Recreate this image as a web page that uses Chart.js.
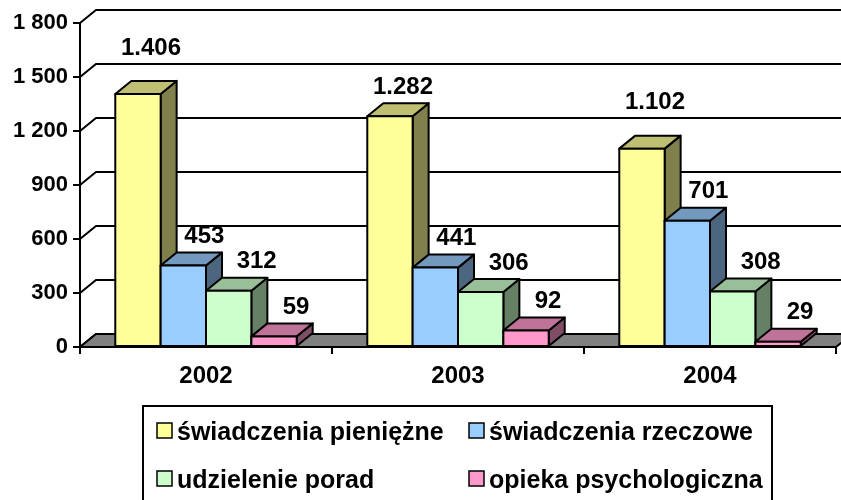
<!DOCTYPE html>
<html>
<head>
<meta charset="utf-8">
<script src="https://cdn.jsdelivr.net/npm/chart.js@4"></script>
<style>
html, body { margin: 0; padding: 0; background: #fff; }
</style>
</head>
<body>
<canvas id="chart" width="841" height="500"></canvas>
<script>
//1) DATA//
var years = ['2002', '2003', '2004'];
var seriesNames = ['świadczenia pieniężne', 'świadczenia rzeczowe', 'udzielenie porad', 'opieka psychologiczna'];
var pieniezne = [1406, 1282, 1102];
var rzeczowe = [453, 441, 701];
var porady = [312, 306, 308];
var psychologiczna = [59, 92, 29];
var yTicks = [0, 300, 600, 900, 1200, 1500, 1800];

//2) STYLE//
var frontColors = ['#FFFF99', '#99CCFF', '#CCFFCC', '#FF99CC'];
var topColors = ['#BFBF73', '#7399BF', '#99BF99', '#BF7399'];
var sideColors = ['#80804D', '#4D6680', '#668066', '#804D66'];
var depthX = 16, depthY = -13;
var labelShift = [13, 21, 28, 22];
var FONT = '"Liberation Sans", Arial, sans-serif';

function spaced(v) { return String(v).replace(/\B(?=(\d{3})+(?!\d))/g, ' '); }
function dotted(v) { return String(v).replace(/\B(?=(\d{3})+(?!\d))/g, '.'); }

//3) 3D PLUGIN//
var threeD = {
   id: 'threeD',
   beforeDatasetsDraw(chart) {
      var ctx = chart.ctx, area = chart.chartArea, ys = chart.scales.y;
      ctx.save();
      ctx.lineWidth = 2;
      ctx.strokeStyle = '#000';
      yTicks.forEach(v => {
         var py = ys.getPixelForValue(v);
         ctx.beginPath();
         ctx.moveTo(area.left, py);
         ctx.lineTo(area.left + depthX, py + depthY);
         ctx.lineTo(area.right + depthX, py + depthY);
         ctx.stroke();
      });
      // floor
      var base = ys.getPixelForValue(0);
      ctx.beginPath();
      ctx.moveTo(area.left, base);
      ctx.lineTo(area.right, base);
      ctx.lineTo(area.right + depthX, base + depthY);
      ctx.lineTo(area.left + depthX, base + depthY);
      ctx.closePath();
      ctx.fillStyle = '#808080';
      ctx.fill();
      ctx.stroke();
      ctx.restore();
   },
   afterDatasetsDraw(chart) {
      var ctx = chart.ctx, ys = chart.scales.y;
      var bars = [];
      chart.data.datasets.forEach((ds, i) => {
         chart.getDatasetMeta(i).data.forEach((el, j) => {
            bars.push({ p: el.getProps(['x', 'y', 'base', 'width'], true), ds: i, value: ds.data[j] });
         });
      });
      bars.sort((a, b) => a.p.x - b.p.x);

      ctx.save();
      ctx.lineWidth = 2;
      ctx.lineJoin = 'round';
      ctx.strokeStyle = '#000';
      bars.forEach(b => {
         var l = b.p.x - b.p.width / 2, r = b.p.x + b.p.width / 2, t = b.p.y, bt = b.p.base;
         // side
         ctx.beginPath();
         ctx.moveTo(r, t);
         ctx.lineTo(r + depthX, t + depthY);
         ctx.lineTo(r + depthX, bt + depthY);
         ctx.lineTo(r, bt);
         ctx.closePath();
         ctx.fillStyle = sideColors[b.ds];
         ctx.fill();
         ctx.stroke();
         // top
         ctx.beginPath();
         ctx.moveTo(l, t);
         ctx.lineTo(l + depthX, t + depthY);
         ctx.lineTo(r + depthX, t + depthY);
         ctx.lineTo(r, t);
         ctx.closePath();
         ctx.fillStyle = topColors[b.ds];
         ctx.fill();
         ctx.stroke();
         // front
         ctx.beginPath();
         ctx.rect(l, t, r - l, bt - t);
         ctx.fillStyle = frontColors[b.ds];
         ctx.fill();
         ctx.stroke();
      });

      // value labels
      ctx.fillStyle = '#000';
      ctx.font = 'bold 24px ' + FONT;
      ctx.textAlign = 'center';
      ctx.textBaseline = 'middle';
      var backLines = yTicks.map(v => ys.getPixelForValue(v) + depthY);
      bars.forEach(b => {
         var ly = b.p.y - 29;
         backLines.forEach(g => {
            if (Math.abs(ly - g) < 9) ly = g - 16;
         });
         ctx.fillText(dotted(b.value), b.p.x + labelShift[b.ds], ly);
      });
      ctx.restore();
   }
};

//4) LEGEND//
var legendBox = {
   id: 'legendBox',
   afterDraw(chart) {
      var ctx = chart.ctx;
      var cols = [157, 469], rows = [423, 471];
      ctx.save();
      ctx.lineWidth = 2;
      ctx.strokeStyle = '#000';
      ctx.strokeRect(143, 406, 629, 100);
      ctx.font = 'bold 25px ' + FONT;
      ctx.textAlign = 'left';
      ctx.textBaseline = 'middle';
      seriesNames.forEach((name, i) => {
         var bx = cols[i % 2], by = rows[Math.floor(i / 2)];
         ctx.fillStyle = frontColors[i];
         ctx.fillRect(bx, by, 15, 15);
         ctx.lineWidth = 1.5;
         ctx.strokeRect(bx, by, 15, 15);
         ctx.fillStyle = '#000';
         ctx.fillText(name, bx + 20, by + 10);
      });
      ctx.restore();
   }
};

//5) CHART//
var seriesValues = [pieniezne, rzeczowe, porady, psychologiczna];
new Chart(document.getElementById('chart'), {
   type: 'bar',
   data: {
      labels: years,
      datasets: seriesValues.map((vals, i) => ({
         label: seriesNames[i],
         data: vals,
         backgroundColor: 'rgba(0,0,0,0)',
         borderWidth: 0,
         categoryPercentage: 0.72,
         barPercentage: 1
      }))
   },
   options: {
      responsive: false,
      animation: false,
      events: [],
      layout: { padding: { top: 23, right: 5, bottom: 113, left: 0 } },
      plugins: { legend: { display: false }, tooltip: { enabled: false } },
      scales: {
         x: {
            afterFit: s => { s.height = 40; },
            grid: { drawOnChartArea: false, tickLength: 7, color: '#000', lineWidth: 2 },
            border: { display: true, color: '#000', width: 2 },
            ticks: { color: '#000', padding: 8, font: { family: FONT, size: 24, weight: 'bold' } }
         },
         y: {
            min: 0,
            max: 1800,
            afterFit: s => { s.width = 80; },
            afterBuildTicks: s => { s.ticks = yTicks.map(v => ({ value: v })); },
            grid: { drawOnChartArea: false, tickLength: 7, color: '#000', lineWidth: 2 },
            border: { display: true, color: '#000', width: 2 },
            ticks: { color: '#000', padding: 5, callback: v => spaced(v), font: { family: FONT, size: 22, weight: 'bold' } }
         }
      }
   },
   plugins: [threeD, legendBox]
});
</script>
</body>
</html>
